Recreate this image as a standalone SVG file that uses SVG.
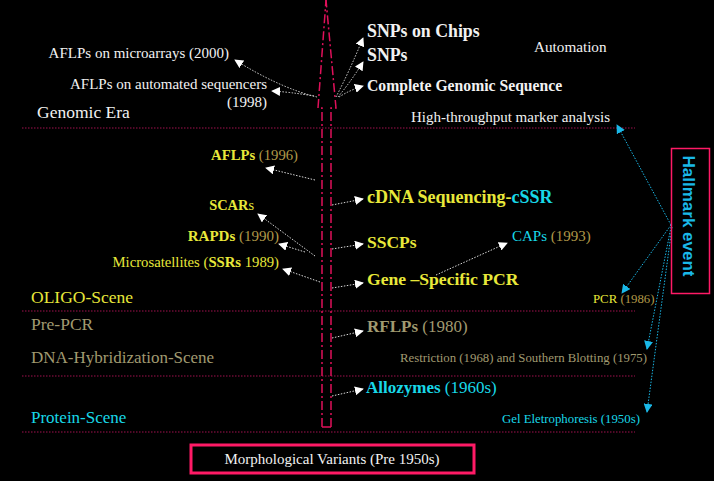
<svg xmlns="http://www.w3.org/2000/svg" width="714" height="481" viewBox="0 0 714 481">
<defs>
<marker id="aw" viewBox="0 0 10 10" refX="9" refY="5" markerWidth="9" markerHeight="9" markerUnits="userSpaceOnUse" orient="auto"><path d="M0,0 L10,5 L0,10 z" fill="#ffffff"/></marker>
<marker id="ac" viewBox="0 0 10 10" refX="9" refY="5" markerWidth="9" markerHeight="9" markerUnits="userSpaceOnUse" orient="auto"><path d="M0,0 L10,5 L0,10 z" fill="#1ab8e8"/></marker>
</defs>
<style>
text{font-family:"Liberation Serif","Times New Roman",serif;}
.w{fill:#f2f2f2}
.y{fill:#e8e83a}
.t{fill:#b09848}
.o{fill:#a09a70}
.c{fill:#18d8e8}
.b{font-weight:bold}
.sep{stroke:#a0104e;stroke-width:1.2;stroke-dasharray:1.5 1.5;fill:none}
.ax{stroke:#e0105a;stroke-width:1.5;stroke-dasharray:9 3 2 3;fill:none}
.cw{stroke:#d8d8d8;stroke-width:1;stroke-dasharray:1.5 1.5;fill:none;marker-end:url(#aw)}
.cc{stroke:#1ab8e8;stroke-width:1;stroke-dasharray:1.5 1.5;fill:none;marker-end:url(#ac)}
</style>
<rect width="714" height="481" fill="#000"/>
<g id="separators">
<line class="sep" x1="22" y1="128" x2="635" y2="128"/>
<line class="sep" x1="22" y1="311" x2="635" y2="311"/>
<line class="sep" x1="22" y1="376" x2="635" y2="376"/>
<line class="sep" x1="22" y1="432" x2="635" y2="432"/>
</g>
<g id="timeline-arrow">
<path class="ax" d="M322,427 L322,108 L318,108 L326,0"/>
<path class="ax" d="M331,427 L331,108 L336,108 L326,0"/>
<line class="ax" x1="322" y1="427" x2="331" y2="427"/>
</g>
<g id="connectors">
<path class="cw" d="M317,97 Q280,88 235,60"/>
<path class="cw" d="M314,96 Q290,92 272,91"/>
<path class="cw" d="M336,97 Q350,70 363,38"/>
<path class="cw" d="M338,97 Q352,80 363,62"/>
<path class="cw" d="M339,97 Q350,90 363,86"/>
<path class="cw" d="M315,180 L266,168"/>
<path class="cw" d="M315,256 L258,214"/>
<path class="cw" d="M305,252 L279,244"/>
<path class="cw" d="M320,282 L283,269"/>
<path class="cw" d="M332,205 L363,199"/>
<path class="cw" d="M332,249 L363,244"/>
<path class="cw" d="M332,288 L363,283"/>
<path class="cw" d="M436,275 L507,243"/>
<path class="cw" d="M332,338 L363,331"/>
<path class="cw" d="M332,396 L363,389"/>
<path class="cc" d="M671,225 L617,125"/>
<path class="cc" d="M671,225 L622,293"/>
<path class="cc" d="M671,227 L647,349"/>
<path class="cc" d="M672,227 L647,412"/>
</g>
<g id="genomic-era">
<text x="37" y="118" font-size="17.5" class="w">Genomic Era</text>
<text x="229" y="58" font-size="15" text-anchor="end" class="w">AFLPs on microarrays (2000)</text>
<text x="267" y="89" font-size="15" text-anchor="end" class="w">AFLPs on automated sequencers</text>
<text x="267" y="107" font-size="15" text-anchor="end" class="w">(1998)</text>
<text x="367" y="37" font-size="17.8" class="w b">SNPs on Chips</text>
<text x="367" y="61" font-size="17.8" class="w b">SNPs</text>
<text x="367" y="91" font-size="15.7" class="w b">Complete Genomic Sequence</text>
<text x="534" y="52" font-size="15.2" class="w">Automation</text>
<text x="411" y="122" font-size="15" class="w">High-throughput marker analysis</text>
</g>
<g id="oligo-scene">
<text x="31" y="303" font-size="17.5" class="y">OLIGO-Scene</text>
<text x="298" y="160" font-size="14.7" text-anchor="end"><tspan class="y b">AFLPs</tspan><tspan class="t"> (1996)</tspan></text>
<text x="254" y="210" font-size="14.4" text-anchor="end" class="y"><tspan class="b">SCAR</tspan>s</text>
<text x="279" y="241" font-size="15" text-anchor="end"><tspan class="y b">RAPDs</tspan><tspan class="t"> (1990)</tspan></text>
<text x="279" y="267" font-size="14.7" text-anchor="end" class="y">Microsatellites (<tspan class="b">SSRs</tspan> 1989)</text>
<text x="367" y="203" font-size="18" class="y b">cDNA Sequencing-<tspan class="c">cSSR</tspan></text>
<text x="367" y="248" font-size="17.5" class="y b">SSCPs</text>
<text x="512" y="241" font-size="15"><tspan class="c">CAPs</tspan><tspan class="t"> (1993)</tspan></text>
<text x="367" y="285" font-size="17.6" class="y b">Gene –Specific PCR</text>
<text x="593" y="303" font-size="12.8"><tspan class="y">PCR</tspan><tspan class="t"> (1986)</tspan></text>
</g>
<g id="pre-pcr">
<text x="31" y="330" font-size="17.5" class="o">Pre-PCR</text>
<text x="31" y="363" font-size="17" class="o">DNA-Hybridization-Scene</text>
<text x="367" y="332" font-size="17" class="o"><tspan class="b">RFLPs</tspan> (1980)</text>
<text x="400" y="362" font-size="12.8" class="o">Restriction (1968) and Southern Blotting (1975)</text>
</g>
<g id="protein-scene">
<text x="31" y="423" font-size="17" class="c">Protein-Scene</text>
<text x="366" y="393" font-size="17" class="c"><tspan class="b">Allozymes</tspan> (1960s)</text>
<text x="502" y="423" font-size="12.8" class="c">Gel Eletrophoresis (1950s)</text>
</g>
<g id="morphological">
<rect x="191" y="445" width="283" height="28" fill="none" stroke="#ff1a66" stroke-width="3"/>
<text x="332" y="464" font-size="15" text-anchor="middle" class="w">Morphological Variants (Pre 1950s)</text>
</g>
<g id="hallmark">
<rect x="671.5" y="148.5" width="38" height="145" fill="none" stroke="#ff1a66" stroke-width="1.5"/>
<text transform="translate(683,216) rotate(90)" font-size="17" text-anchor="middle" fill="#1ab8e8" style="font-family:'Liberation Sans',Arial,sans-serif;font-weight:bold">Hallmark event</text>
</g>
</svg>
